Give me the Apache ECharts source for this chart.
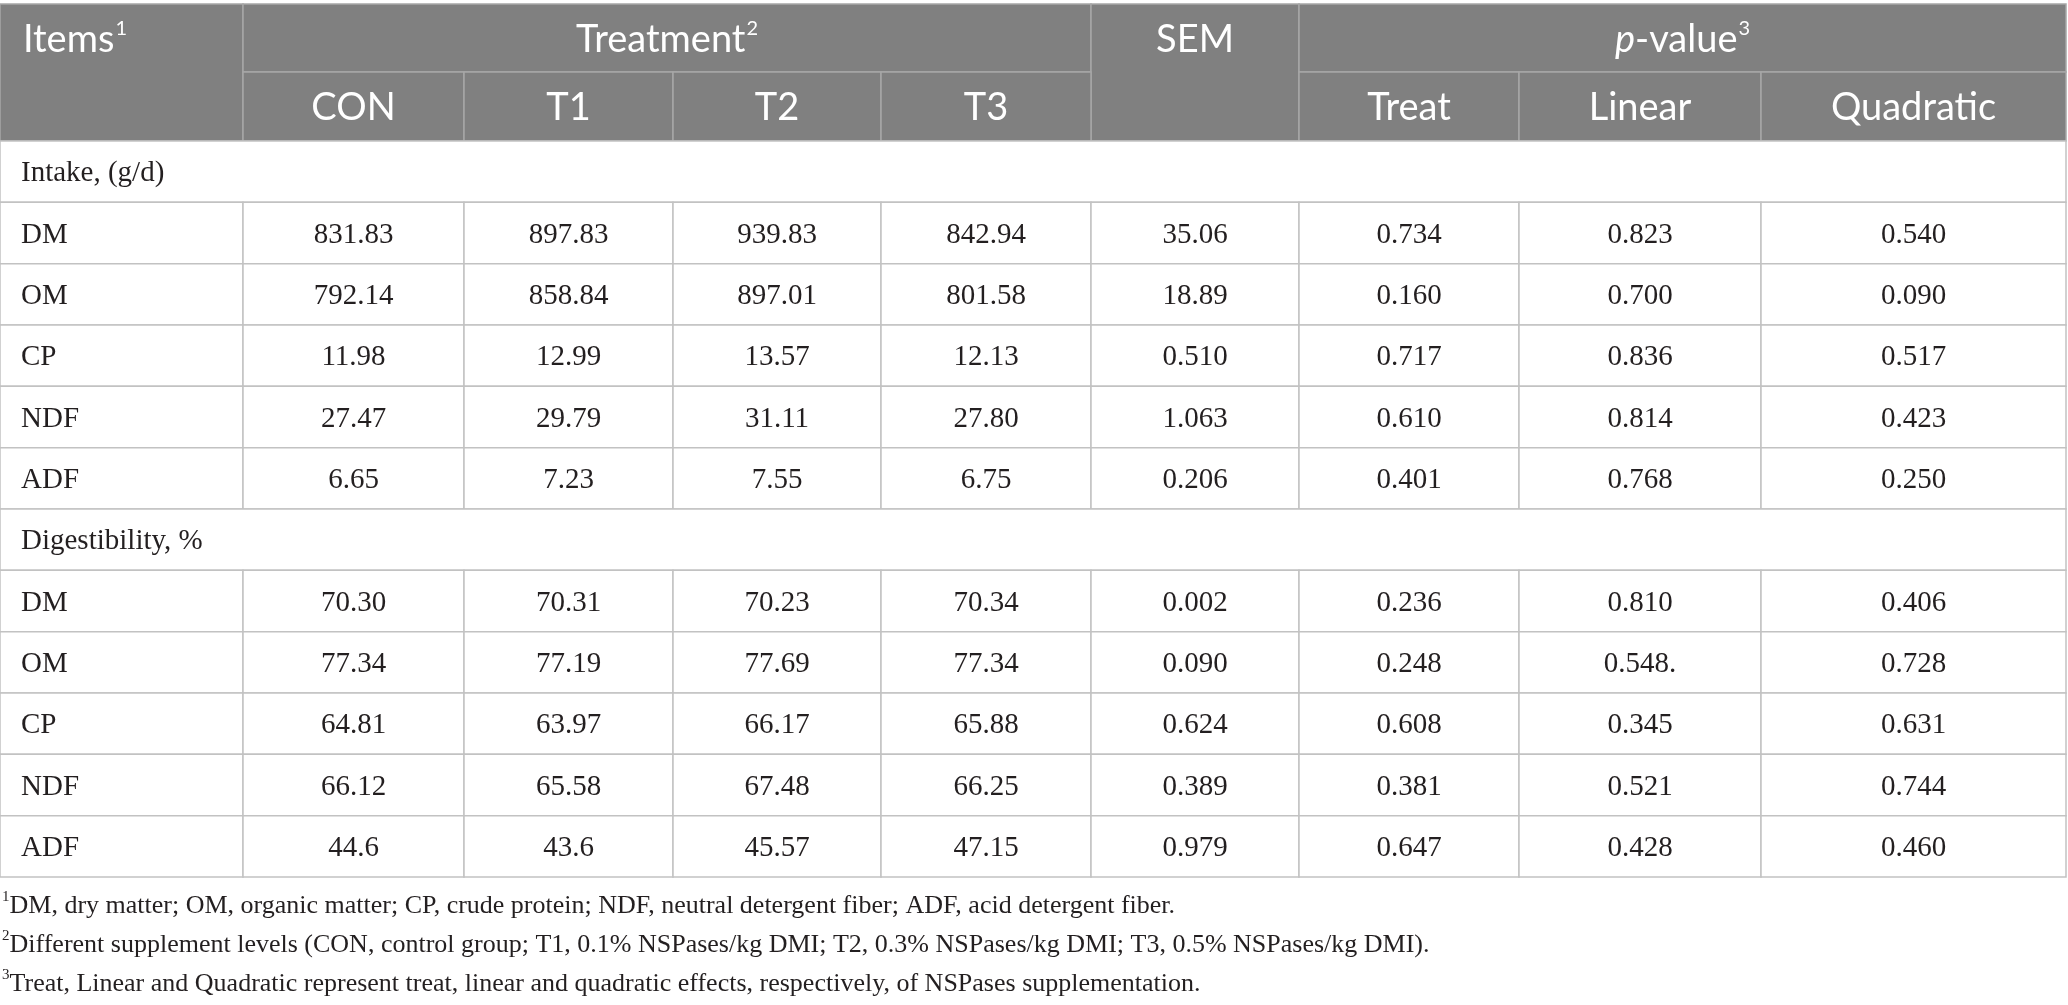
<!DOCTYPE html>
<html>
<head>
<meta charset="utf-8">
<script src="https://cdn.jsdelivr.net/npm/echarts@6/dist/echarts.min.js"></script>
<style>
  html, body { margin: 0; padding: 0; background: #fff; }
  #main { width: 2068px; height: 1005px; }
</style>
</head>
<body>
<div id="main"></div>
<script>
// ---- table content ----
const treatments = ['CON', 'T1', 'T2', 'T3'];
const effects = ['Treat', 'Linear', 'Quadratic'];
const sections = ['Intake, (g/d)', 'Digestibility, %'];
const items = ['DM', 'OM', 'CP', 'NDF', 'ADF'];

// intake, g/d
const intakeCON = ['831.83', '792.14', '11.98', '27.47', '6.65'];
const intakeT1 = ['897.83', '858.84', '12.99', '29.79', '7.23'];
const intakeT2 = ['939.83', '897.01', '13.57', '31.11', '7.55'];
const intakeT3 = ['842.94', '801.58', '12.13', '27.80', '6.75'];
const intakeSEM = ['35.06', '18.89', '0.510', '1.063', '0.206'];
const intakeTreat = ['0.734', '0.160', '0.717', '0.610', '0.401'];
const intakeLinear = ['0.823', '0.700', '0.836', '0.814', '0.768'];
const intakeQuad = ['0.540', '0.090', '0.517', '0.423', '0.250'];

// digestibility, %
const digCON = ['70.30', '77.34', '64.81', '66.12', '44.6'];
const digT1 = ['70.31', '77.19', '63.97', '65.58', '43.6'];
const digT2 = ['70.23', '77.69', '66.17', '67.48', '45.57'];
const digT3 = ['70.34', '77.34', '65.88', '66.25', '47.15'];
const digSEM = ['0.002', '0.090', '0.624', '0.389', '0.979'];
const digTreat = ['0.236', '0.248', '0.608', '0.381', '0.647'];
const digLinear = ['0.810', '0.548.', '0.345', '0.521', '0.428'];
const digQuad = ['0.406', '0.728', '0.631', '0.744', '0.460'];

const footnotes = [
  ['1', 'DM, dry matter; OM, organic matter; CP, crude protein; NDF, neutral detergent fiber; ADF, acid detergent fiber.'],
  ['2', 'Different supplement levels (CON, control group; T1, 0.1% NSPases/kg DMI; T2, 0.3% NSPases/kg DMI; T3, 0.5% NSPases/kg DMI).'],
  ['3', 'Treat, Linear and Quadratic represent treat, linear and quadratic effects, respectively, of NSPases supplementation.']
];

// ---- layout (px units on the hidden value axes) ----
const colEdges = [0, 243, 464, 673, 881, 1091, 1299, 1519, 1761, 2066];
const headTop = 4, headMid = 72, headBottom = 141, rowH = 61.33;
const noteY = [906, 945, 984];

const cells = [];
function cell(c0, c1, y0, y1, text, kind, align, ty) {
  cells.push({ x0: colEdges[c0], x1: colEdges[c1], y0, y1, text, kind, align, ty });
}

// header
cell(0, 1, headTop, headBottom, '{n|Items}{s|1}', 'head', 'left', (headTop + headMid) / 2 + 2);
cell(1, 5, headTop, headMid, '{n|Treatment}{s|2}', 'head', 'center', (headTop + headMid) / 2 + 2);
cell(5, 6, headTop, headBottom, '{n|SEM}', 'head', 'center', (headTop + headMid) / 2 + 2);
cell(6, 9, headTop, headMid, '{i|p}{n|-value}{s|3}', 'head', 'center', (headTop + headMid) / 2 + 2);
treatments.forEach((t, i) => cell(1 + i, 2 + i, headMid, headBottom, '{n|' + t + '}', 'head', 'center', (headMid + headBottom) / 2 + 1));
effects.forEach((t, i) => cell(6 + i, 7 + i, headMid, headBottom, '{n|' + t + '}', 'head', 'center', (headMid + headBottom) / 2 + 1));

// body
const blocks = [
  [intakeCON, intakeT1, intakeT2, intakeT3, intakeSEM, intakeTreat, intakeLinear, intakeQuad],
  [digCON, digT1, digT2, digT3, digSEM, digTreat, digLinear, digQuad]
];
let r = 0;
sections.forEach((s, si) => {
  let y0 = headBottom + r * rowH;
  cell(0, 9, y0, y0 + rowH, s, 'section', 'left', y0 + rowH / 2 + 2);
  r++;
  items.forEach((it, k) => {
    y0 = headBottom + r * rowH;
    cell(0, 1, y0, y0 + rowH, it, 'body', 'left', y0 + rowH / 2 + 2);
    blocks[si].forEach((col, j) => cell(1 + j, 2 + j, y0, y0 + rowH, col[k], 'body', 'center', y0 + rowH / 2 + 2));
    r++;
  });
});

// footnotes
footnotes.forEach((f, i) => {
  cells.push({ x0: 2, x1: 2, y0: noteY[i], y1: noteY[i], text: '{s|' + f[0] + '}{n|' + f[1] + '}', kind: 'note', align: 'left', ty: noteY[i] });
});

const headRich = {
  n: { fontFamily: 'Lato', fontSize: 38, fill: '#fff', lineHeight: 42 },
  i: { fontFamily: 'Lato', fontSize: 38, fill: '#fff', fontStyle: 'italic', lineHeight: 42 },
  s: { fontFamily: 'Lato', fontSize: 20, fill: '#fff', lineHeight: 28, verticalAlign: 'top', padding: [0, 0, 0, 1] }
};
const noteRich = {
  n: { fontFamily: 'Liberation Serif', fontSize: 26, fill: '#231f20', lineHeight: 32 },
  s: { fontFamily: 'Liberation Serif', fontSize: 15, fill: '#231f20', lineHeight: 22, verticalAlign: 'top' }
};

const chart = echarts.init(document.getElementById('main'), null, { renderer: 'canvas' });

chart.setOption({
  animation: false,
  grid: { left: 0, right: 0, top: 0, bottom: 0 },
  xAxis: { type: 'value', min: 0, max: 2068, show: false },
  yAxis: { type: 'value', min: 0, max: 1005, inverse: true, show: false },
  series: [{
    type: 'custom',
    silent: true,
    clip: false,
    data: cells.map(c => [c.x0, c.x1, c.y0, c.y1, c.ty]),
    renderItem: (params, api) => {
      const c = cells[params.dataIndex];
      const a = api.coord([api.value(0), api.value(2)]);
      const b = api.coord([api.value(1), api.value(3)]);
      const tx = c.align === 'left' ? api.value(0) : (api.value(0) + api.value(1)) / 2;
      const t = api.coord([tx, api.value(4)]);
      const children = [];
      if (c.kind !== 'note') {
        children.push({
          type: 'rect',
          shape: { x: a[0], y: a[1], width: b[0] - a[0], height: b[1] - a[1] },
          style: {
            fill: c.kind === 'head' ? '#808080' : '#fff',
            stroke: c.kind === 'head' ? '#a6a6a6' : '#c2c2c2',
            lineWidth: 1.5
          }
        });
      }
      const pad = c.kind === 'note' ? 0 : (c.kind === 'head' ? 23 : 21);
      const style = {
        text: c.text,
        x: 0, y: 0,
        align: c.align,
        verticalAlign: 'middle'
      };
      if (c.kind === 'head') {
        style.rich = headRich;
      } else if (c.kind === 'note') {
        style.rich = noteRich;
      } else {
        style.fontFamily = 'Liberation Serif';
        style.fontSize = 29;
        style.fill = '#231f20';
      }
      children.push({
        type: 'text',
        x: t[0] + (c.align === 'left' ? pad : 0),
        y: t[1],
        style
      });
      return { type: 'group', children };
    }
  }]
});
</script>
</body>
</html>
